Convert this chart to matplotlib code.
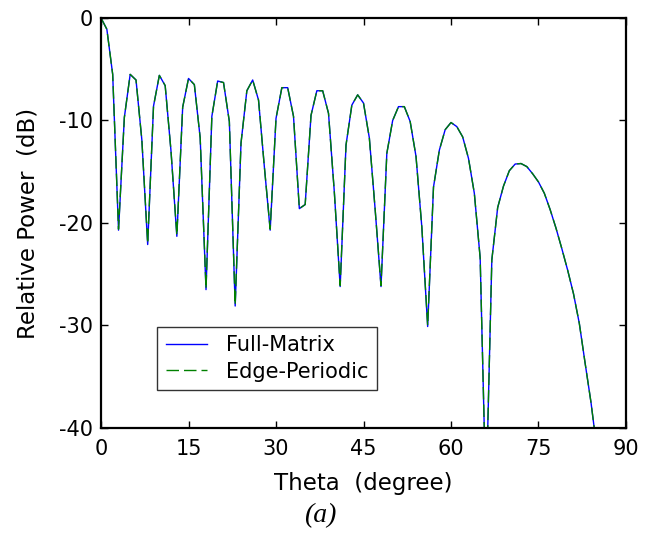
import matplotlib
matplotlib.use("Agg")
import matplotlib.pyplot as plt

theta = list(range(0, 86))
full_matrix = [
    0.0, -1.1, -5.5, -20.7, -9.7, -5.5, -6.05, -11.9, -22.1, -8.6,
    -5.6, -6.6, -13.0, -21.3, -8.7, -5.9, -6.5, -11.7, -26.5, -9.6,
    -6.15, -6.3, -10.1, -28.1, -12.2, -7.1, -6.05, -8.0, -14.5, -20.7,
    -9.8, -6.8, -6.8, -9.6, -18.6, -18.2, -9.5, -7.1, -7.1, -9.3,
    -17.0, -26.2, -12.4, -8.5, -7.5, -8.3, -11.7, -18.7, -26.2, -13.2,
    -10.0, -8.65, -8.65, -10.1, -13.5, -20.4, -30.1, -16.5, -12.9, -10.9,
    -10.2, -10.6, -11.6, -13.7, -17.1, -23.4, -47.0, -23.6, -18.5, -16.4,
    -14.9, -14.25, -14.2, -14.5, -15.2, -16.0, -17.1, -18.7, -20.5, -22.5,
    -24.6, -26.9, -29.8, -33.7, -37.5, -42.0,
]
edge_periodic = [
    0.0, -1.1, -5.5, -20.6, -9.7, -5.5, -6.05, -11.9, -22.0, -8.6,
    -5.6, -6.6, -13.0, -21.2, -8.7, -5.9, -6.5, -11.7, -26.4, -9.6,
    -6.15, -6.3, -10.1, -28.0, -12.2, -7.1, -6.05, -8.0, -14.5, -20.6,
    -9.8, -6.8, -6.8, -9.6, -18.6, -18.2, -9.5, -7.1, -7.1, -9.3,
    -17.0, -26.1, -12.4, -8.5, -7.5, -8.3, -11.7, -18.7, -26.1, -13.2,
    -10.0, -8.65, -8.65, -10.1, -13.5, -20.4, -30.0, -16.5, -12.9, -10.9,
    -10.2, -10.6, -11.6, -13.7, -17.1, -23.4, -47.0, -23.6, -18.5, -16.4,
    -14.9, -14.25, -14.2, -14.5, -15.2, -16.0, -17.1, -18.7, -20.5, -22.5,
    -24.6, -26.9, -29.8, -33.7, -37.5, -42.0,
]
x_ticks = [0, 15, 30, 45, 60, 75, 90]
y_ticks = [-40, -30, -20, -10, 0]
series_labels = ["Full-Matrix", "Edge-Periodic"]

plt.rcParams["font.family"] = ["DejaVu Sans"]
plt.rcParams["axes.unicode_minus"] = False

fig = plt.figure(figsize=(6.62, 5.35), dpi=100, facecolor="white")
ax = fig.add_axes([0.1526, 0.2, 0.7930, 0.7664])

ax.plot(theta, full_matrix, color="#0000ff", lw=1.0, label=series_labels[0])
ax.plot(theta, edge_periodic, color="#008000", lw=1.0, dashes=(9, 3.6),
        label=series_labels[1])

ax.set_xlim(0, 90)
ax.set_ylim(-40, 0)
ax.set_xticks(x_ticks)
ax.set_yticks(y_ticks)
ax.tick_params(direction="in", length=5, width=1, top=True, right=True,
               labelsize=15, colors="black")
ax.tick_params(axis="x", pad=8)
ax.tick_params(axis="y", pad=6)
for s in ax.spines.values():
    s.set_linewidth(1.6)

ax.set_xlabel("Theta  (degree)", fontsize=16.5, labelpad=9)
ax.set_ylabel("Relative Power  (dB)", fontsize=16.5, labelpad=14)

leg = ax.legend(loc="lower left", bbox_to_anchor=(0.107, 0.093),
                fontsize=15, frameon=True, fancybox=False, handlelength=2.0,
                borderpad=0.4, labelspacing=0.3, handletextpad=0.9,
                borderaxespad=0, handleheight=0.7)
leg.get_frame().set_edgecolor("black")
leg.get_frame().set_linewidth(1.0)

fig.text(0.483, 0.036, "(a)", fontsize=20, style="italic",
         family="Liberation Serif", ha="center", va="center")

fig.savefig("out.png", dpi=100, facecolor="white")
